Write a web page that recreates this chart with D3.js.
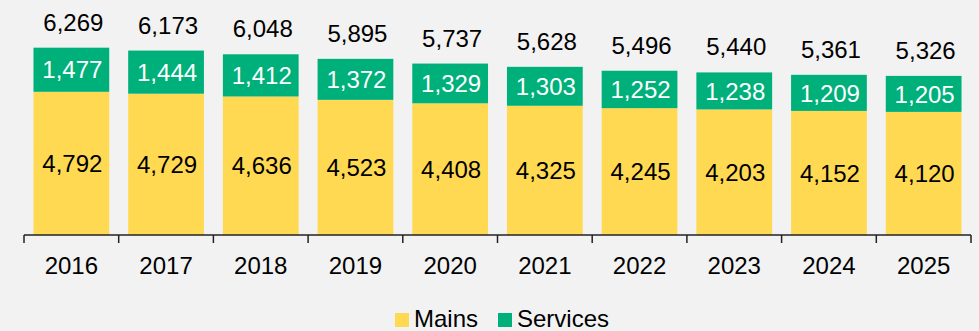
<!DOCTYPE html>
<html>
<head>
<meta charset="utf-8">
<script src="https://cdn.jsdelivr.net/npm/d3@7/dist/d3.min.js"></script>
<style>
  html, body { margin: 0; padding: 0; background: #f2f2f2; }
  svg { display: block; font-family: "Liberation Sans", Arial, sans-serif; }
</style>
</head>
<body>
<svg id="chart" width="979" height="331"></svg>
<script>
const years = ["2016","2017","2018","2019","2020","2021","2022","2023","2024","2025"];
const mains = [4792,4729,4636,4523,4408,4325,4245,4203,4152,4120];
const services = [1477,1444,1412,1372,1329,1303,1252,1238,1209,1205];
const totals = [6269,6173,6048,5895,5737,5628,5496,5440,5361,5326];
const seriesNames = ["Mains","Services"];
const colors = { Mains: "#FFD952", Services: "#00B07B" };

const W = 979, H = 331;
const left = 24, right = 971, baseY = 235;
const fontSize = 24;
const svg = d3.select("#chart");

const x = d3.scaleBand().domain(years).range([left, right]).paddingInner(0.2).paddingOuter(0.1);
const y = d3.scaleLinear().domain([0, 7000]).range([baseY, baseY - 7000 * 0.02988]);
const fmt = d3.format(",");

const rows = years.map((yr, i) => ({ year: yr, Mains: mains[i], Services: services[i], total: totals[i] }));
const stacked = d3.stack().keys(seriesNames)(rows);

const g = svg.append("g");
stacked.forEach(layer => {
  const key = layer.key;
  g.selectAll(null).data(layer).enter().append("rect")
    .attr("x", d => x(d.data.year))
    .attr("width", x.bandwidth())
    .attr("y", d => y(d[1]))
    .attr("height", d => y(d[0]) - y(d[1]))
    .attr("fill", colors[key]);
  g.selectAll(null).data(layer).enter().append("text")
    .attr("x", d => x(d.data.year) + x.bandwidth() / 2 + 1)
    .attr("y", d => (y(d[0]) + y(d[1])) / 2)
    .attr("dy", "0.36em")
    .attr("text-anchor", "middle")
    .attr("font-size", fontSize)
    .attr("fill", key === "Services" ? "#ffffff" : "#000000")
    .text(d => fmt(d.data[key]));
});

// totals above each stack
g.selectAll(null).data(rows).enter().append("text")
  .attr("x", d => x(d.year) + x.bandwidth() / 2 + 2)
  .attr("y", d => y(d.total) - 17)
  .attr("text-anchor", "middle")
  .attr("font-size", fontSize)
  .attr("fill", "#000")
  .text(d => fmt(d.total));

// category axis with ticks between categories
const boundaries = d3.range(years.length + 1).map(i => left + i * (right - left) / years.length);
const ax = svg.append("g").attr("stroke", "#222").attr("stroke-width", 1.5);
ax.append("line").attr("x1", left).attr("x2", right).attr("y1", baseY).attr("y2", baseY);
ax.selectAll(null).data(boundaries).enter().append("line")
  .attr("x1", d => d).attr("x2", d => d).attr("y1", baseY).attr("y2", baseY + 8);

svg.selectAll(".yr").data(years).enter().append("text")
  .attr("x", d => x(d) + x.bandwidth() / 2)
  .attr("y", 274)
  .attr("text-anchor", "middle")
  .attr("font-size", fontSize)
  .attr("fill", "#000")
  .text(d => d);

// legend
const legend = svg.append("g");
const items = [{ name: "Mains", x: 395 }, { name: "Services", x: 498 }];
items.forEach(it => {
  legend.append("rect").attr("x", it.x).attr("y", 313).attr("width", 14).attr("height", 14).attr("fill", colors[it.name]);
  legend.append("text").attr("x", it.x + 19).attr("y", 327).attr("font-size", fontSize).attr("fill", "#000").text(it.name);
});
</script>
</body>
</html>
